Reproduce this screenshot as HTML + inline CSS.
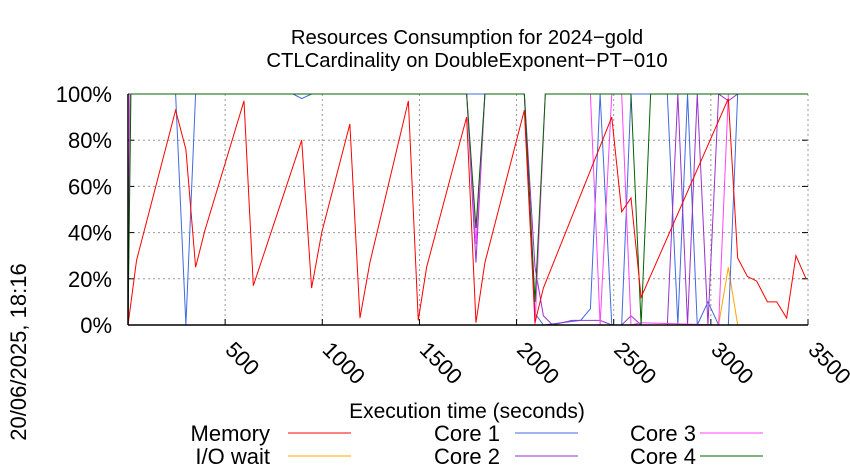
<!DOCTYPE html>
<html><head><meta charset="utf-8"><style>
html,body{margin:0;padding:0;background:#fff;}
svg{display:block;font-family:"Liberation Sans",sans-serif;}
</style></head><body>
<svg id="chart" width="850" height="475" viewBox="0 0 850 475" xmlns="http://www.w3.org/2000/svg">
<g font-size="20.3" text-anchor="middle">
<text x="467" y="44">Resources Consumption for 2024−gold</text>
<text x="467" y="67">CTLCardinality on DoubleExponent−PT−010</text>
</g>
<g id="grid"></g>
<g id="yticks" font-size="22" text-anchor="end"></g>
<g id="xticks" font-size="22"></g>
<g id="series" fill="none" stroke-width="1"></g>
<line x1="128" y1="325" x2="808" y2="325" stroke="#000" stroke-width="1.5"/>
<line x1="128" y1="94" x2="128" y2="325" stroke="#000" stroke-width="1.5"/>
<text x="467" y="418" font-size="21" text-anchor="middle">Execution time (seconds)</text>
<text transform="translate(26,352) rotate(-90)" font-size="22" text-anchor="middle">20/06/2025, 18:16</text>
<g id="legend" font-size="22"></g>
</svg>
<script>
const xTicks = [500,1000,1500,2000,2500,3000,3500];
const yTicks = [0,20,40,60,80,100];
const memT = [0,44,245,298,348,396,597,645,894,945,997,1142,1194,1245,1443,1494,1537,1657,1743,1791,1837,2040,2095,2138,2490,2541,2589,2641,3090,3138,3188,3236,3291,3339,3390,3438,3490];
const memV = [0,28,93,76,25,41,97,17,80,16,40,87,3,27,97,2,25,63,90,1,27,93,1,16,90,49,55,12,98,29,21,19,10,10,3,30,20];
const ioT = [0,3040,3090,3138,3500];
const ioV = [0,0,25,0,0];
const c1T = [0,10,245,298,348,850,894,945,2040,2095,2138,2330,2380,2430,2490,2541,2589,2776,2830,2880,2930,2985,3040,3090,3138,3500];
const c1V = [0,100,100,0,100,100,98,100,100,5,0,2,7,100,0,0,100,100,0,100,0,10,0,0,100,100];
const c2T = [0,10,1743,1791,1837,2040,2095,2138,2185,2285,2430,2490,2541,2589,2641,2690,2776,2830,2880,2930,2985,3040,3090,3138,3500];
const c2V = [0,100,100,27,100,100,25,4,0,2,2,0,0,4,0,0,0,100,0,100,0,100,97,100,100];
const c3T = [0,10,245,298,348,396,1743,1791,1837,2040,2095,2148,2380,2430,2490,2541,2589,2640,3040,3090,3500];
const c3V = [0,100,100,100,100,100,100,35,100,100,0,100,100,0,100,100,0,1,0,100,100];
const c4T = [0,15,1743,1791,1837,2040,2095,2148,2541,2589,2641,2690,3500];
const c4V = [0,100,100,42,100,100,10,100,100,100,0,100,100];
const legendNames = ["Memory","I/O wait","Core 1","Core 2","Core 3","Core 4"];
const colors = ["#ff0000","#ffa500","#4169e1","#9932cc","#ff44ff","#006400"];

const NS="http://www.w3.org/2000/svg";
const X0=128,X1=808,Y0=325,Y1=94,XMAX=3500;
const sx=t=>X0+t*(X1-X0)/XMAX;
const sy=v=>Y0-v*(Y0-Y1)/100;
const mk=(tag,parent,attrs)=>{const e=document.createElementNS(NS,tag);for(const k in attrs)e.setAttribute(k,attrs[k]);parent.appendChild(e);return e;};
const grid=document.getElementById('grid');
yTicks.forEach(v=>{
  if(v>0&&v<100){const l=mk('line',grid,{x1:X0,x2:X1,y1:sy(v),y2:sy(v),stroke:'#999','stroke-dasharray':'2,3'});
  
  }
  const tk=mk('line',grid,{x1:X0,x2:X0+6,y1:sy(v),y2:sy(v),stroke:'#000'});
  
  
  const tk2=mk('line',grid,{x1:X1-6,x2:X1,y1:sy(v),y2:sy(v),stroke:'#000'});
  
  
  const t=mk('text',document.getElementById('yticks'),{x:112,y:sy(v)+8});
  t.textContent=v+'%';
  
  
});
xTicks.forEach((v,i)=>{
  const l=mk('line',grid,{x1:sx(v),x2:sx(v),y1:Y1,y2:Y0,stroke:'#999','stroke-dasharray':'2,3'});
  
  
  const tk=mk('line',grid,{x1:sx(v),x2:sx(v),y1:Y0-6,y2:Y0,stroke:'#000'});
  
  
  const ax=sx(v)-1, ay=351;
  const t=mk('text',document.getElementById('xticks'),{x:ax,y:ay,transform:`rotate(45 ${ax} ${ay})`});
  t.textContent=v;
  
  
});
const sets=[[memT,memV],[ioT,ioV],[c1T,c1V],[c2T,c2V],[c3T,c3V],[c4T,c4V]];
const order=[1,2,3,4,5,0];
const ser=document.getElementById('series');
order.forEach(i=>{
  const [T,V]=sets[i];
  const p=mk('polyline',ser,{points:T.map((t,j)=>sx(t)+','+sy(V[j])).join(' '),stroke:colors[i]});
  
  
});
const leg=document.getElementById('legend');
const cols=[[270,288],[500,515],[696,700]];
legendNames.forEach((n,i)=>{
  const c=Math.floor(i/2),r=i%2,y=433+r*23;
  const t=mk('text',leg,{x:cols[c][0],y:y+8,'text-anchor':'end'});
  t.textContent=n;
  
  
  const l=mk('line',leg,{x1:cols[c][1],x2:cols[c][1]+63,y1:y,y2:y,stroke:colors[i]});
  
  
});
</script>
</body></html>
